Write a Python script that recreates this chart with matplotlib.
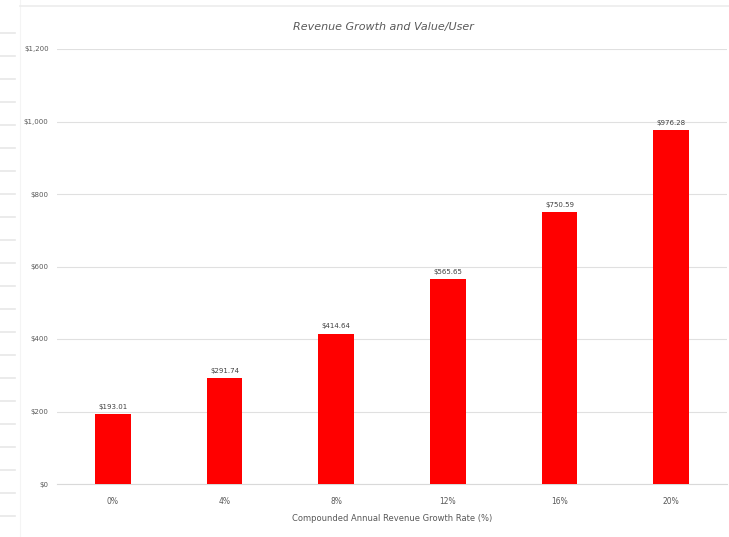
import matplotlib
matplotlib.use("Agg")
import matplotlib.pyplot as plt
from matplotlib.lines import Line2D

categories = ["0%", "4%", "8%", "12%", "16%", "20%"]
values = [193.01, 291.74, 414.64, 565.65, 750.59, 976.28]
y_ticks = [0, 200, 400, 600, 800, 1000, 1200]
y_tick_labels = ["$0", "$200", "$400", "$600", "$800", "$1,000", "$1,200"]

W, H = 729, 537
fig = plt.figure(figsize=(W / 100, H / 100), dpi=100)
fig.patch.set_facecolor("white")

# faint sheet row marks on the far left and a thin top rule
for yy in range(33, 537, 23):
    fig.add_artist(Line2D([0, 15 / W], [1 - yy / H, 1 - yy / H], color="#e8e8e8", lw=1.2))
fig.add_artist(Line2D([20 / W, 20 / W], [0, 1], color="#f4f4f4", lw=0.8))
fig.add_artist(Line2D([20 / W, 1], [1 - 6 / H, 1 - 6 / H], color="#ececec", lw=1.2))

ax = fig.add_axes([57 / W, 53 / H, 670 / W, 435 / H])
x = range(len(categories))
bars = ax.bar(x, values, width=0.32, color="#ff0000", zorder=3)

for xi, v in zip(x, values):
    ax.text(xi, v + 12, f"${v:,.2f}", ha="center", va="bottom", fontsize=5, color="#404040")

ax.set_xlim(-0.5, len(categories) - 0.5)
ax.set_ylim(0, 1200)
ax.set_yticks(y_ticks)
ax.set_yticklabels(y_tick_labels, fontsize=5, color="#595959")
ax.set_xticks(list(x))
ax.set_xticklabels(categories, fontsize=5.5, color="#595959")
ax.tick_params(axis="x", length=0, pad=9)
ax.tick_params(axis="y", length=0, pad=6)
ax.grid(axis="y", color="#e0e0e0", lw=0.8, zorder=0)
for s in ["top", "right", "left"]:
    ax.spines[s].set_visible(False)
ax.spines["bottom"].set_color("#d9d9d9")

ax.set_xlabel("Compounded Annual Revenue Growth Rate (%)", fontsize=6, color="#595959", labelpad=6)
fig.text(383 / W, 1 - 27 / H, "Revenue Growth and Value/User", ha="center", va="center",
         fontsize=8, style="italic", color="#595959")

fig.savefig("out.png", dpi=100, facecolor="white")
